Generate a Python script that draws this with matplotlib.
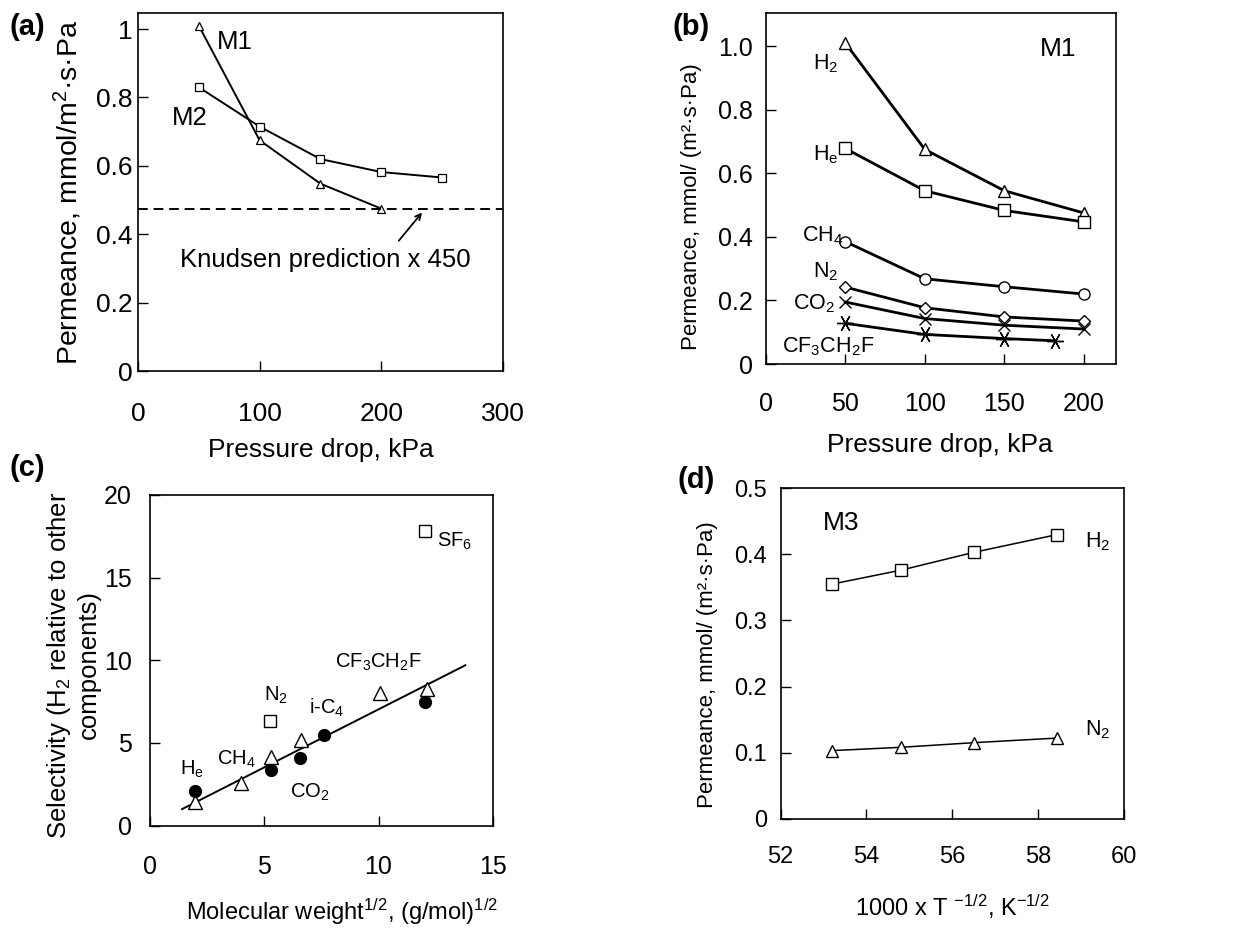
import matplotlib
matplotlib.use('Agg')
import matplotlib.pyplot as plt

WIDE = ['Liberation Sans', 'DejaVu Sans']
plt.rcParams['font.family'] = WIDE
plt.rcParams['mathtext.default'] = 'regular'

# (a) permeance vs pressure drop, two membranes
a_x_m1 = [50, 100, 150, 200]
a_m1 = [1.01, 0.675, 0.548, 0.475]
a_x_m2 = [50, 100, 150, 200, 250]
a_m2 = [0.83, 0.715, 0.62, 0.582, 0.566]
a_knudsen = 0.475

# (b) M1, several gases
b_x = [50, 100, 150, 200]
b_h2 = [1.01, 0.675, 0.545, 0.475]
b_he = [0.678, 0.545, 0.483, 0.447]
b_ch4 = [0.385, 0.268, 0.243, 0.22]
b_n2 = [0.242, 0.177, 0.148, 0.135]
b_co2 = [0.195, 0.143, 0.122, 0.11]
b_x_cf = [50, 100, 150, 182]
b_cf = [0.128, 0.093, 0.08, 0.073]

# (c) selectivity vs sqrt molecular weight
c_x_circ = [1.95, 5.3, 6.57, 7.6, 12.05]
c_circ = [2.07, 3.38, 4.08, 5.5, 7.5]
c_x_tri = [1.97, 3.98, 5.3, 6.6, 10.07, 12.1]
c_tri = [1.45, 2.6, 4.15, 5.2, 8.0, 8.25]
c_x_sq = [5.25, 12.05]
c_sq = [6.3, 17.8]
c_fit_x = [1.4, 13.8]
c_fit_y = [1.0, 9.7]

# (d) M3 temperature dependence
d_x = [53.2, 54.8, 56.5, 58.45]
d_h2 = [0.355, 0.376, 0.403, 0.43]
d_n2 = [0.103, 0.108, 0.115, 0.122]


def style(ax, xpad, ypad, size):
    ax.tick_params(direction='in', length=7, width=1, top=False, right=False,
                   labelsize=size)
    ax.tick_params(axis='x', pad=xpad)
    ax.tick_params(axis='y', pad=ypad)
    for s in ax.spines.values():
        s.set_linewidth(1.2)


fig = plt.figure(figsize=(12.35, 9.3), dpi=100)

## (a) ##
ax = fig.add_axes([0.1117, 0.601, 0.2955, 0.385])
ax.plot(a_x_m1, a_m1, '-^', color='k', lw=1.4, ms=6, mfc='white', mew=0.9)
ax.plot(a_x_m2, a_m2, '-s', color='k', lw=1.4, ms=5.5, mfc='white', mew=0.9)
ax.axhline(a_knudsen, color='k', lw=1.4, ls=(0, (5, 3)))
ax.set_xlim(0, 300)
ax.set_ylim(0, 1.047)
ax.set_xticks([0, 100, 200, 300])
ax.set_yticks([0, 0.2, 0.4, 0.6, 0.8, 1.0])
ax.set_yticklabels(['0', '0.2', '0.4', '0.6', '0.8', '1'])
style(ax, 22, 4, 19)
ax.text(65, 0.962, 'M1', fontsize=18.5, ha='left', va='center')
ax.text(28, 0.74, 'M2', fontsize=18.5, ha='left', va='center')
ax.annotate('', xy=(235, 0.47), xytext=(213, 0.375),
            arrowprops=dict(arrowstyle='->', color='k', lw=1.3))
ax.text(154, 0.325, 'Knudsen prediction x 450', fontsize=18.5, ha='center', va='center')
ax.set_xlabel('Pressure drop, kPa', fontsize=19)
ax.xaxis.set_label_coords(0.5, -0.221)
ax.xaxis.label.set_va('center')
ax.set_ylabel('Permeance, mmol/m$^2$·s·Pa', fontsize=20.5, va='center')
ax.yaxis.set_label_coords(-0.192, 0.5)

## (b) ##
ax = fig.add_axes([0.620, 0.6086, 0.2834, 0.3774])
kw = dict(color='k', lw=2.0, mfc='white', mew=1.0)
ax.plot(b_x, b_h2, '-^', ms=9, **kw)
ax.plot(b_x, b_he, '-s', ms=8, **kw)
ax.plot(b_x, b_ch4, '-o', ms=8, **kw)
ax.plot(b_x, b_n2, '-D', ms=6.5, **kw)
ax.plot(b_x, b_co2, '-x', ms=8, **kw)
ax.plot(b_x_cf, b_cf, '-', marker=(6, 2, 90), ms=12, color='k', lw=2.0, mew=1.0)
ax.set_xlim(0, 220)
ax.set_ylim(0, 1.104)
ax.set_xticks([0, 50, 100, 150, 200])
ax.set_yticks([0, 0.2, 0.4, 0.6, 0.8, 1.0])
ax.set_yticklabels(['0', '0.2', '0.4', '0.6', '0.8', '1.0'])
style(ax, 20, 9, 18)
ax.text(184, 0.99, 'M1', fontsize=19, ha='center', va='center')
lab = dict(fontsize=15.5, ha='center', va='center')
ax.text(37.7, 0.946, 'H$_2$', **lab)
ax.text(37.7, 0.657, 'H$_e$', **lab)
ax.text(36, 0.405, 'CH$_4$', **lab)
ax.text(37.7, 0.29, 'N$_2$', **lab)
ax.text(30.4, 0.19, 'CO$_2$', **lab)
ax.text(39, 0.055, 'CF$_3$CH$_2$F', **lab)
ax.set_xlabel('Pressure drop, kPa', fontsize=19)
ax.xaxis.set_label_coords(0.498, -0.231)
ax.xaxis.label.set_va('center')
ax.set_ylabel('Permeance, mmol/ (m²·s·Pa)', fontsize=16, va='center')
ax.yaxis.set_label_coords(-0.211, 0.447)

## (c) ##
ax = fig.add_axes([0.1215, 0.1122, 0.2775, 0.3556])
ax.plot(c_fit_x, c_fit_y, '-', color='k', lw=1.4)
ax.plot(c_x_tri, c_tri, '^', color='k', ms=10, mfc='white', mew=1.0, ls='none')
ax.plot(c_x_circ, c_circ, 'o', color='k', ms=8.5, ls='none')
ax.plot(c_x_sq, c_sq, 's', color='k', ms=8, mfc='white', mew=1.0, ls='none')
ax.set_xlim(0, 15)
ax.set_ylim(0, 20)
ax.set_xticks([0, 5, 10, 15])
ax.set_yticks([0, 5, 10, 15, 20])
style(ax, 21, 13, 18)
lab = dict(fontsize=14.5, ha='center', va='center')
ax.text(1.82, 3.4, 'H$_e$', **lab)
ax.text(3.76, 4.0, 'CH$_4$', **lab)
ax.text(5.5, 7.9, 'N$_2$', **lab)
ax.text(7.73, 7.1, 'i-C$_4$', **lab)
ax.text(7.0, 2.0, 'CO$_2$', **lab)
ax.text(9.98, 9.9, 'CF$_3$CH$_2$F', **lab)
ax.text(13.35, 17.2, 'SF$_6$', **lab)
ax.set_xlabel('Molecular weight$^{1/2}$, (g/mol)$^{1/2}$', fontsize=17)
ax.xaxis.set_label_coords(0.56, -0.26)
ax.xaxis.label.set_va('center')
ax.set_ylabel('Selectivity (H$_2$ relative to other\ncomponents)', fontsize=18.5,
              va='center', linespacing=1.2)
ax.yaxis.set_label_coords(-0.225, 0.486)

## (d) ##
ax = fig.add_axes([0.6321, 0.1197, 0.278, 0.3553])
ax.plot(d_x, d_h2, '-s', color='k', lw=1.1, ms=8, mfc='white', mew=1.0)
ax.plot(d_x, d_n2, '-^', color='k', lw=1.1, ms=9, mfc='white', mew=1.0)
ax.set_xlim(52, 60)
ax.set_ylim(0, 0.5)
ax.set_xticks([52, 54, 56, 58, 60])
ax.set_yticks([0, 0.1, 0.2, 0.3, 0.4, 0.5])
ax.set_yticklabels(['0', '0.1', '0.2', '0.3', '0.4', '0.5'])
style(ax, 20, 10, 17)
ax.text(52.98, 0.447, 'M3', fontsize=19, ha='left', va='center')
ax.text(59.1, 0.419, 'H$_2$', fontsize=15.5, ha='left', va='center')
ax.text(59.1, 0.134, 'N$_2$', fontsize=15.5, ha='left', va='center')
ax.set_xlabel('1000 x T $^{-1/2}$, K$^{-1/2}$', fontsize=17)
ax.xaxis.set_label_coords(0.5, -0.266)
ax.xaxis.label.set_va('center')
ax.set_ylabel('Permeance, mmol/ (m²·s·Pa)', fontsize=16, va='center')
ax.yaxis.set_label_coords(-0.212, 0.465)

# panel letters
for x, y, t in [(0.022, 0.971, '(a)'), (0.560, 0.971, '(b)'),
                (0.022, 0.497, '(c)'), (0.564, 0.484, '(d)')]:
    fig.text(x, y, t, fontsize=21, fontweight='bold', ha='center', va='center')

fig.savefig('out.png', dpi=100)
